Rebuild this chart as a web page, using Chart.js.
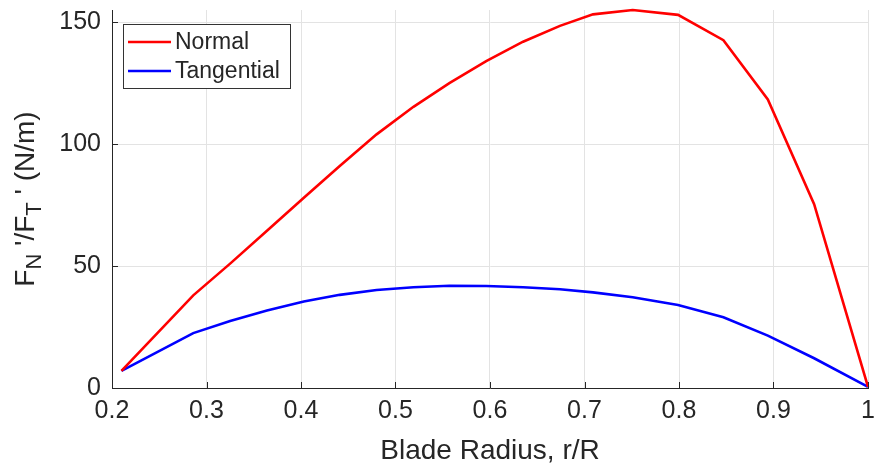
<!DOCTYPE html>
<html><head><meta charset="utf-8">
<script src="https://cdn.jsdelivr.net/npm/chart.js@4/dist/chart.umd.min.js"></script>
<style>html,body{margin:0;padding:0;background:#fff}#wrap{width:876px;height:470px}</style>
</head><body><div id="wrap"><canvas id="c" width="876" height="470"></canvas></div>
<script>
const radius = [0.21, 0.286, 0.325, 0.364, 0.403, 0.441, 0.48, 0.519, 0.557, 0.596, 0.635, 0.674, 0.709, 0.751, 0.799, 0.847, 0.894, 0.943, 1.0];
const normalForce = [7, 38, 51, 64.5, 78, 91, 104, 115.3, 125, 134, 142, 148.5, 153.2, 155, 153, 142.6, 118.3, 75.4, 0.5];
const tangentialForce = [7, 22.5, 27.5, 31.8, 35.5, 38.2, 40.2, 41.3, 41.9, 41.8, 41.3, 40.5, 39.2, 37.2, 34, 29, 21.5, 12.2, 0.5];
const xTicks = [0.2, 0.3, 0.4, 0.5, 0.6, 0.7, 0.8, 0.9, 1];
const yTicks = [0, 50, 100, 150];
const seriesNames = ['Normal', 'Tangential'];
const xTitle = 'Blade Radius, r/R';
const yTitleParts = [['F', false], ['N', true], [" '/F", false], ['T', true], [" ' (N/m)", false]];

const FONT = "'Liberation Sans', Arial, Helvetica, sans-serif";
const TXT = '#262626';

const toPoints = (xs, ys) => xs.map((x, i) => ({ x: x, y: ys[i] }));

const inwardTicks = {
  id: 'inwardTicks',
  afterDatasetsDraw(chart) {
    const ctx = chart.ctx, a = chart.chartArea;
    const xs = chart.scales.x, ys = chart.scales.y;
    ctx.save();
    ctx.strokeStyle = TXT; ctx.lineWidth = 1;
    ctx.beginPath();
    xTicks.forEach(v => { const p = Math.round(xs.getPixelForValue(v)) + 0.5; ctx.moveTo(p, a.bottom); ctx.lineTo(p, a.bottom - 6); });
    yTicks.forEach(v => { const p = Math.round(ys.getPixelForValue(v)) + 0.5; ctx.moveTo(a.left, p); ctx.lineTo(a.left + 6, p); });
    ctx.stroke();
    ctx.restore();
  }
};

const yTitlePlugin = {
  id: 'yTitle',
  afterDraw(chart) {
    const ctx = chart.ctx, a = chart.chartArea;
    const big = 28, small = 22;
    ctx.save();
    ctx.fillStyle = TXT;
    ctx.textBaseline = 'alphabetic';
    let total = 0;
    yTitleParts.forEach(([t, sub]) => { ctx.font = (sub ? small : big) + 'px ' + FONT; total += ctx.measureText(t).width; });
    ctx.translate(34, (a.top + a.bottom) / 2);
    ctx.rotate(-Math.PI / 2);
    let x = -total / 2;
    yTitleParts.forEach(([t, sub]) => {
      ctx.font = (sub ? small : big) + 'px ' + FONT;
      ctx.fillText(t, x, sub ? 7 : 0);
      x += ctx.measureText(t).width;
    });
    ctx.restore();
  }
};

const boxLegend = {
  id: 'boxLegend',
  afterDraw(chart) {
    const ctx = chart.ctx, a = chart.chartArea;
    const bx = a.left + 11, by = a.top + 14, bw = 167, bh = 64;
    ctx.save();
    ctx.fillStyle = '#fff';
    ctx.fillRect(bx, by, bw, bh);
    ctx.strokeStyle = '#333'; ctx.lineWidth = 1;
    ctx.strokeRect(bx + 0.5, by + 0.5, bw, bh);
    ctx.font = '23px ' + FONT;
    ctx.textBaseline = 'middle';
    chart.data.datasets.forEach((ds, i) => {
      const cy = by + 18 + i * 29;
      ctx.strokeStyle = ds.borderColor; ctx.lineWidth = ds.borderWidth;
      ctx.beginPath(); ctx.moveTo(bx + 5, cy); ctx.lineTo(bx + 48, cy); ctx.stroke();
      ctx.fillStyle = TXT;
      ctx.fillText(ds.label, bx + 52, cy + 1);
    });
    ctx.restore();
  }
};

new Chart(document.getElementById('c'), {
  type: 'line',
  data: {
    datasets: [
      { label: seriesNames[0], data: toPoints(radius, normalForce), borderColor: '#ff0000', borderWidth: 2.6, pointRadius: 0, tension: 0, fill: false, clip: false },
      { label: seriesNames[1], data: toPoints(radius, tangentialForce), borderColor: '#0000ff', borderWidth: 2.6, pointRadius: 0, tension: 0, fill: false, clip: false }
    ]
  },
  options: {
    responsive: false,
    devicePixelRatio: 1,
    animation: false,
    layout: { padding: { top: 10, right: 8, left: 0, bottom: 0 } },
    plugins: { legend: { display: false }, tooltip: { enabled: false } },
    scales: {
      x: {
        type: 'linear', min: 0.2, max: 1,
        afterBuildTicks: s => { s.ticks = xTicks.map(v => ({ value: v })); },
        afterFit: s => { s.height = 82; s.paddingLeft = 0; s.paddingRight = 0; s.paddingTop = 0; s.paddingBottom = 0; },
        ticks: { color: TXT, font: { family: FONT, size: 25 }, padding: 8, maxRotation: 0, autoSkip: false,
          callback: v => String(Math.round(v * 10) / 10) },
        grid: { color: '#e3e3e3', drawTicks: false, lineWidth: 1 },
        border: { display: true, color: TXT, width: 1 },
        title: { display: true, text: xTitle, color: TXT, font: { family: FONT, size: 28 }, padding: { top: 0, bottom: 2 } }
      },
      y: {
        type: 'linear', min: 0, max: 155,
        afterBuildTicks: s => { s.ticks = yTicks.map(v => ({ value: v })); },
        afterFit: s => { s.width = 112; s.paddingLeft = 0; s.paddingRight = 0; s.paddingTop = 0; s.paddingBottom = 0; },
        ticks: { color: TXT, font: { family: FONT, size: 25 }, padding: 11, autoSkip: false },
        grid: { color: '#e3e3e3', drawTicks: false, lineWidth: 1 },
        border: { display: true, color: TXT, width: 1 }
      }
    }
  },
  plugins: [inwardTicks, yTitlePlugin, boxLegend]
});
</script></body></html>
